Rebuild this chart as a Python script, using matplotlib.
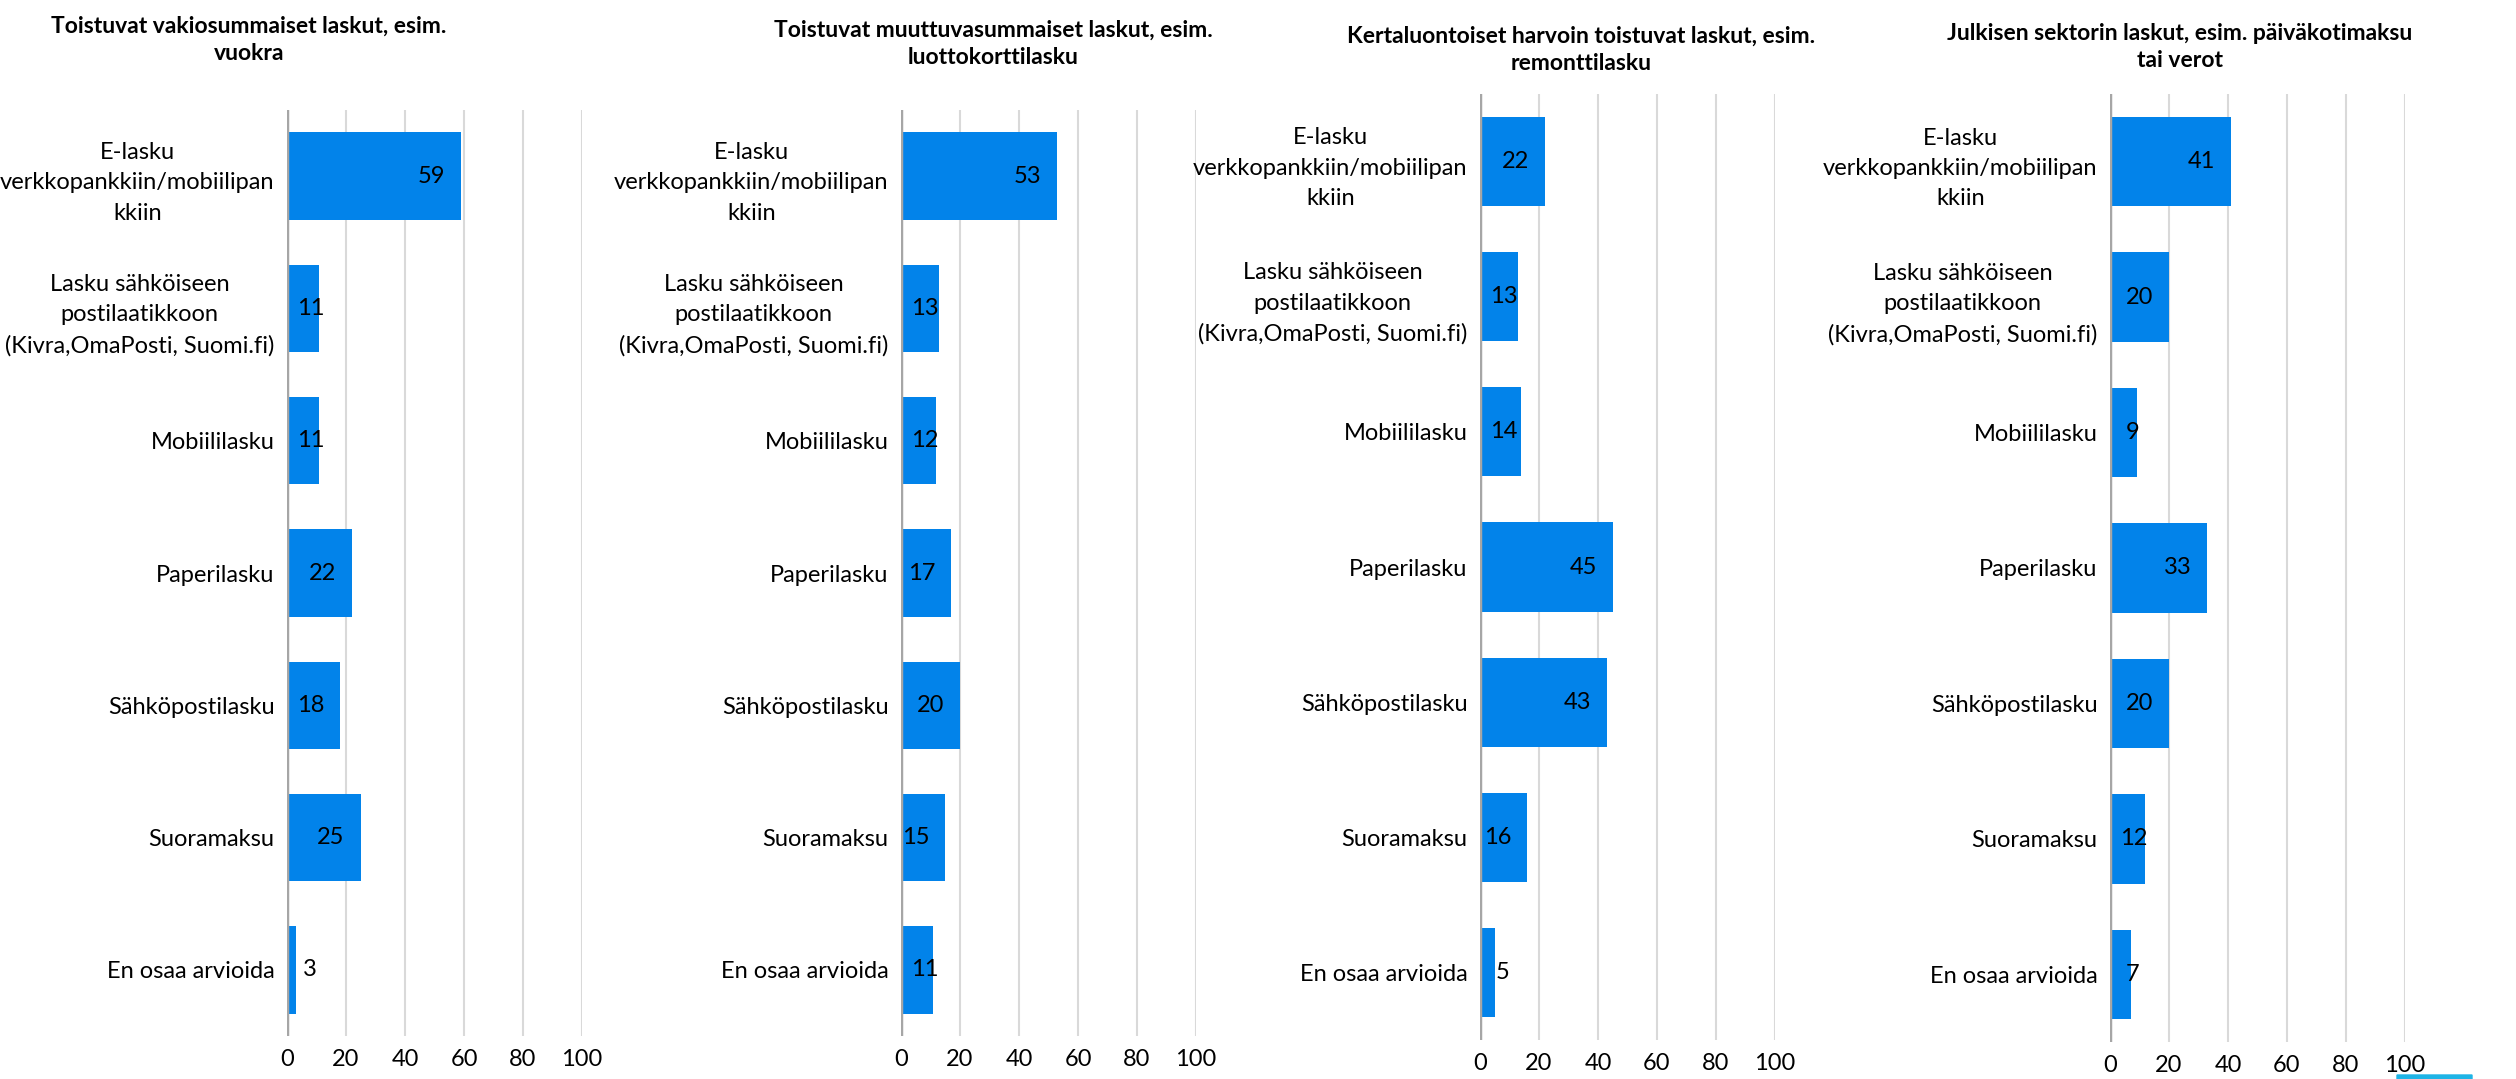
import matplotlib.pyplot as plt
from matplotlib.patches import FancyBboxPatch

plt.rcParams['font.family'] = ['Lato', 'DejaVu Sans']

categories = [
    "E-lasku\nverkkopankkiin/mobiilipan\nkkiin",
    "Lasku sähköiseen\npostilaatikkoon\n(Kivra,OmaPosti, Suomi.fi)",
    "Mobiililasku",
    "Paperilasku",
    "Sähköpostilasku",
    "Suoramaksu",
    "En osaa arvioida",
]

titles = [
    "Toistuvat vakiosummaiset laskut, esim.\nvuokra",
    "Toistuvat muuttuvasummaiset laskut, esim.\nluottokorttilasku",
    "Kertaluontoiset harvoin toistuvat laskut, esim.\nremonttilasku",
    "Julkisen sektorin laskut, esim. päiväkotimaksu\ntai verot",
]

vakio = [59, 11, 11, 22, 18, 25, 3]
muuttuva = [53, 13, 12, 17, 20, 15, 11]
kertaluontoiset = [22, 13, 14, 45, 43, 16, 5]
julkinen = [41, 20, 9, 33, 20, 12, 7]
all_values = [vakio, muuttuva, kertaluontoiset, julkinen]

x_ticks = [0, 20, 40, 60, 80, 100]

W, H = 2516, 1079
bar_color = '#0283EA'

# axes boxes in pixels: left, top, right, bottom
boxes = [
    (287, 110, 582, 1036),
    (901, 110, 1196, 1036),
    (1480, 94, 1775, 1040),
    (2110, 94, 2405, 1042),
]
# title centre x and middle y, pixels
title_pos = [(249, 40), (993, 44), (1581, 50), (2180, 47)]

fig = plt.figure(figsize=(W / 100, H / 100), dpi=100)

for i, values in enumerate(all_values):
    l, t, r, b = boxes[i]
    ax = fig.add_axes([l / W, 1 - b / H, (r - l) / W, (b - t) / H])
    y = list(range(len(categories)))
    ax.barh(y, values, height=0.66, color=bar_color, zorder=3)
    ax.set_xlim(0, 100)
    ax.set_ylim(len(categories) - 0.5, -0.5)
    ax.set_yticks(y)
    ax.set_yticklabels(categories, fontsize=17, ma='center', linespacing=1.55)
    ax.set_xticks(x_ticks)
    ax.set_xticklabels([str(v) for v in x_ticks], fontsize=17)
    ax.tick_params(axis='y', length=0, pad=9)
    ax.tick_params(axis='x', length=0, pad=9)
    for s in ax.spines.values():
        s.set_visible(False)
    for xv in x_ticks[1:]:
        ax.axvline(xv, color='#D9D9D9', lw=1.5, zorder=1)
    ax.axvline(0, color='#A6A6A6', lw=2.5, zorder=4)

    # data labels, inside end like excel
    for yi, v in zip(y, values):
        if v >= 15:
            ax.annotate(str(v), (v, yi), xytext=(-16, 0), textcoords='offset pixels',
                        ha='right', va='center', fontsize=17, zorder=5)
        else:
            off = 10 if v >= 10 else 16
            ax.annotate(str(v), (0, yi), xytext=(off, 0), textcoords='offset pixels',
                        ha='left', va='center', fontsize=17, zorder=5)

    tx, ty = title_pos[i]
    fig.text(tx / W, 1 - ty / H, titles[i], ha='center', va='center',
             fontsize=16.5, fontweight='bold', linespacing=1.4)

# small teal shape in bottom right corner
fig.patches.append(FancyBboxPatch((2397 / W, 0.0), 75 / W, 4 / H,
                                  boxstyle='round,pad=0', color='#1EB4E6',
                                  transform=fig.transFigure, figure=fig))

plt.savefig('out.png', dpi=100)
